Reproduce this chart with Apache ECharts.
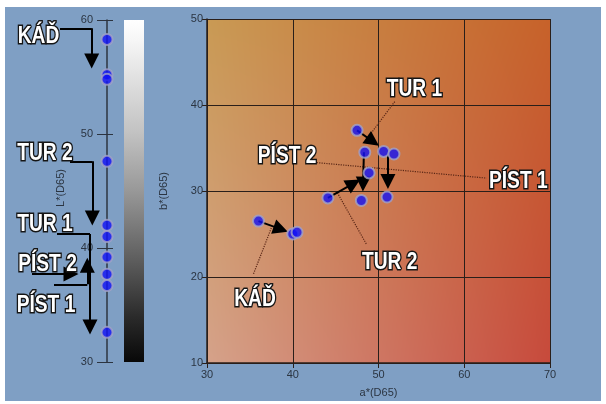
<!DOCTYPE html>
<html><head><meta charset="utf-8">
<script src="https://cdn.jsdelivr.net/npm/echarts@6/dist/echarts.min.js"></script>
<style>html,body{margin:0;padding:0;background:#fff}#c{width:606px;height:404px}</style>
</head><body><div id="c"></div>
<script>
// ---- data ----
const lValues = [58.3, 55.2, 54.8, 47.6, 42.0, 41.0, 39.2, 37.7, 36.7, 32.6];
const aValues = [36.0, 40.0, 40.5, 47.5, 48.4, 50.6, 51.8, 48.9, 44.1, 48.0, 51.0];
const bValues = [26.5, 25.0, 25.2, 37.05, 34.5, 34.6, 34.3, 32.1, 29.2, 28.9, 29.3];
const lRange = [30, 60];
const aRange = [30, 70];
const bRange = [10, 50];
const tickStep = 10;
const labelNames = ['KÁĎ', 'TUR 2', 'TUR 1', 'PÍST 2', 'PÍST 1'];

// annotation anchors (data units); left panel x is a 0..100 helper scale
const leftLabelX = [31.5, 38, 38, 40.5, 39];
const leftLabelL = [58.6, 48.3, 42.05, 38.6, 35.0];
const leftBends = [  // [x0, L0, xBend, Lbend, Lend]  horizontal then vertical arrow
  [53, 59.27, 84.7, 59.27, 56.4],
  [63, 47.6, 85.3, 47.6, 42.63],
  [50, 41.23, 83, 41.23, 33.07],
  [47, 36.82, 80.3, 36.82, 38.48]
];
const leftStraight = [[25, 37.72, 64, 37.72]];

const rightLabelA = [35.6, 51.3, 54.2, 39.34, 66.3];
const rightLabelB = [17.4, 21.7, 41.8, 34.0, 31.1];
const rightArrows = [ // [a0,b0,a1,b1]
  [36.0, 26.5, 38.6, 25.57],
  [47.5, 37.05, 49.34, 35.76],
  [51.1, 34.3, 51.1, 31.1],
  [48.3, 34.5, 48.2, 30.8],
  [44.1, 29.2, 47.1, 30.9]
];
const rightLeaders = [
  [37.5, 25.7, 35.4, 20.3],
  [45.2, 29.8, 48.6, 23.8],
  [51.9, 40.4, 48.6, 36.0],
  [42.8, 33.3, 62.6, 31.5]
];

// ---- styles ----
const axisTxt = '#2b3542';
const pointStyle = {color: '#1212f6', borderColor: '#a4a4c6', borderWidth: 2};
const labelFont = 'bold 24px "Liberation Sans", Arial, sans-serif';

const RG = {left: 207, top: 19, width: 343, height: 344};

function makeBg(w, h) {
  const c = document.createElement('canvas'); c.width = w; c.height = h;
  const ctx = c.getContext('2d'); const img = ctx.createImageData(w, h);
  const TL = [201,154,84], TR = [199,98,42], BL = [213,162,138], BR = [199,74,60];
  for (let y = 0; y < h; y++) for (let x = 0; x < w; x++) {
    const u = x / (w - 1), v = y / (h - 1), i = (y * w + x) * 4;
    for (let k = 0; k < 3; k++) img.data[i + k] = TL[k]*(1-u)*(1-v) + TR[k]*u*(1-v) + BL[k]*(1-u)*v + BR[k]*u*v;
    img.data[i + 3] = 255;
  }
  ctx.putImageData(img, 0, 0); return c;
}

function labelSeries(xi, yi, xs, ys) {
  return {
    type: 'custom', coordinateSystem: 'cartesian2d', xAxisIndex: xi, yAxisIndex: yi, silent: true, z: 6, clip: false,
    data: labelNames.map((n, i) => [xs[i], ys[i], i]),
    renderItem: (params, api) => {
      const p = api.coord([api.value(0), api.value(1)]);
      const i = api.value(2);
      const base = {text: labelNames[i], x: 0, y: 0, align: 'center', verticalAlign: 'middle', font: labelFont};
      return {type: 'group', x: p[0], y: p[1], scaleX: 0.8, children: [
        {type: 'text', z2: 1, style: Object.assign({}, base, {fill: '#151515', stroke: '#151515', lineWidth: 3.2, lineJoin: 'round'})},
        {type: 'text', z2: 2, style: Object.assign({}, base, {fill: '#ffffff'})}
      ]};
    }
  };
}

const chart = echarts.init(document.getElementById('c'), null, {renderer: 'canvas'});

const leftSeg = [], leftArr = [];
leftBends.forEach(r => { leftSeg.push({coords: [[r[0], r[1]], [r[2], r[3]]]}); leftArr.push({coords: [[r[2], r[3]], [r[2], r[4]]]}); });
leftStraight.forEach(r => leftArr.push({coords: [[r[0], r[1]], [r[2], r[3]]]}));

const option = {
  backgroundColor: '#ffffff',
  animation: false,
  graphic: [
    {type: 'rect', z: -20, silent: true, shape: {x: 5, y: 7, width: 596, height: 394}, style: {fill: '#7f9fc4'}},
    {type: 'image', z: -10, silent: true, style: {image: makeBg(RG.width, RG.height), x: RG.left, y: RG.top, width: RG.width, height: RG.height}},
    {type: 'rect', z: -10, silent: true, shape: {x: 124, y: 20, width: 20, height: 342},
      style: {fill: new echarts.graphic.LinearGradient(0, 0, 0, 1, [
        {offset: 0, color: '#ffffff'}, {offset: 0.06, color: '#f6f6f6'}, {offset: 0.33, color: '#c2c2c2'},
        {offset: 0.5, color: '#989898'}, {offset: 0.7, color: '#5e5e5e'}, {offset: 0.87, color: '#2a2a2a'},
        {offset: 1, color: '#080808'}])}},
    {type: 'text', silent: true, x: 61, y: 188, rotation: Math.PI / 2,
      style: {text: 'L*(D65)', x: 0, y: 0, align: 'center', verticalAlign: 'middle', fill: axisTxt, font: '11px "Liberation Sans",Arial,sans-serif'}}
  ],
  grid: [
    {left: 7, top: 20, width: 100, height: 342},
    RG,
    {left: 7, top: 20, width: 100, height: 342}
  ],
  xAxis: [
    {gridIndex: 0, type: 'value', min: 0, max: 100, show: false, axisLine: {onZero: false}},
    {gridIndex: 1, type: 'value', min: aRange[0], max: aRange[1], interval: tickStep,
      name: 'a*(D65)', nameLocation: 'middle', nameGap: 24,
      nameTextStyle: {color: axisTxt, fontSize: 11, fontFamily: 'Liberation Sans'},
      axisLine: {show: true, onZero: false, lineStyle: {color: '#2a1f1a', width: 1.5}},
      axisTick: {show: true, length: 5, lineStyle: {color: '#2a1f1a'}},
      axisLabel: {color: axisTxt, fontSize: 11, margin: 6, fontFamily: 'Liberation Sans'},
      splitLine: {show: true, lineStyle: {color: '#2a1f1a', width: 1}}},
    {gridIndex: 2, type: 'value', min: 0, max: 100, show: false, axisLine: {onZero: false}}
  ],
  yAxis: [
    {gridIndex: 0, type: 'value', min: lRange[0], max: lRange[1], interval: tickStep, position: 'right',
      axisLine: {show: true, onZero: false, lineStyle: {color: '#2c3440', width: 1.5}},
      axisTick: {show: true, inside: true, length: 10, lineStyle: {color: '#2c3440'}},
      axisLabel: {inside: true, margin: 14, color: axisTxt, fontSize: 11, fontFamily: 'Liberation Sans'},
      splitLine: {show: false}},
    {gridIndex: 1, type: 'value', min: bRange[0], max: bRange[1], interval: tickStep,
      name: 'b*(D65)', nameLocation: 'middle', nameGap: 38,
      nameTextStyle: {color: axisTxt, fontSize: 11, fontFamily: 'Liberation Sans'},
      axisLine: {show: true, onZero: false, lineStyle: {color: '#2a1f1a', width: 1.5}},
      axisTick: {show: true, length: 5, lineStyle: {color: '#2a1f1a'}},
      axisLabel: {color: axisTxt, fontSize: 11, margin: 4, fontFamily: 'Liberation Sans'},
      splitLine: {show: true, lineStyle: {color: '#2a1f1a', width: 1}}},
    {gridIndex: 2, type: 'value', min: lRange[0], max: lRange[1], interval: tickStep, position: 'right',
      axisLine: {show: false, onZero: false}, axisTick: {show: true, length: 6, lineStyle: {color: '#2c3440'}},
      axisLabel: {show: false}, splitLine: {show: false}}
  ],
  series: [
    // left panel
    {type: 'lines', coordinateSystem: 'cartesian2d', xAxisIndex: 0, yAxisIndex: 0, silent: true, z: 3,
      lineStyle: {color: '#000', width: 2, opacity: 1}, symbol: ['none', 'none'], data: leftSeg},
    {type: 'lines', coordinateSystem: 'cartesian2d', xAxisIndex: 0, yAxisIndex: 0, silent: true, z: 3,
      lineStyle: {color: '#000', width: 2, opacity: 1}, symbol: ['none', 'triangle'], symbolSize: 15, data: leftArr},
    {type: 'scatter', xAxisIndex: 0, yAxisIndex: 0, silent: true, z: 5, symbolSize: 11, itemStyle: pointStyle,
      data: lValues.map(v => [100, v])},
    labelSeries(0, 0, leftLabelX, leftLabelL),
    // right panel
    {type: 'lines', coordinateSystem: 'cartesian2d', xAxisIndex: 1, yAxisIndex: 1, silent: true, z: 2,
      lineStyle: {color: '#5a2716', width: 1.2, type: 'dotted', opacity: 1}, symbol: ['none', 'none'],
      data: rightLeaders.map(r => ({coords: [[r[0], r[1]], [r[2], r[3]]]}))},
    {type: 'lines', coordinateSystem: 'cartesian2d', xAxisIndex: 1, yAxisIndex: 1, silent: true, z: 3,
      lineStyle: {color: '#000', width: 2, opacity: 1}, symbol: ['none', 'triangle'], symbolSize: 15,
      data: rightArrows.map(r => ({coords: [[r[0], r[1]], [r[2], r[3]]]}))},
    {type: 'scatter', xAxisIndex: 1, yAxisIndex: 1, silent: true, z: 5, symbolSize: 11, itemStyle: pointStyle,
      data: aValues.map((a, i) => [a, bValues[i]])},
    labelSeries(1, 1, rightLabelA, rightLabelB)
  ]
};
chart.setOption(option);
</script></body></html>
